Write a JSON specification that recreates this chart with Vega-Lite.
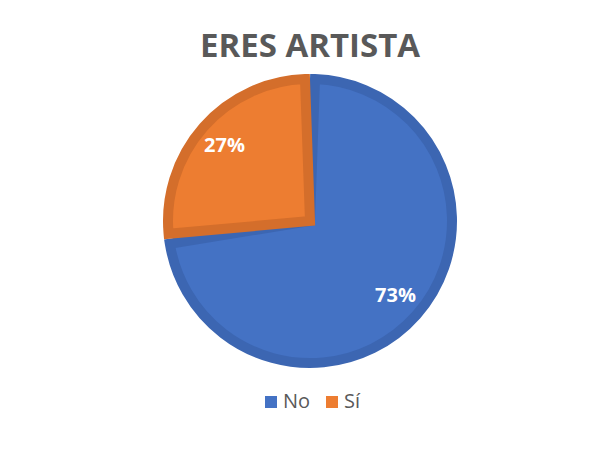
{
  "$schema": "https://vega.github.io/schema/vega-lite/v6.json",
  "autosize": "none",
  "width": 296,
  "height": 296,
  "padding": {"left": 162, "top": 73, "right": 145, "bottom": 84},
  "background": "white",
  "title": {
    "text": "ERES ARTISTA",
    "anchor": "middle",
    "fontSize": 33,
    "fontWeight": "bold",
    "font": "Open Sans",
    "color": "#595959",
    "baseline": "bottom",
    "offset": 7,
    "dy": 45
  },
  "data": {
    "values": [
      {"answer": "No", "share": 0.73},
      {"answer": "Sí", "share": 0.27}
    ]
  },
  "encoding": {
    "theta": {"field": "share", "type": "quantitative", "stack": true},
    "order": {"field": "answer", "type": "nominal", "sort": "ascending"}
  },
  "layer": [
    {
      "mark": {
        "type": "arc",
        "outerRadius": 142,
        "strokeWidth": 10,
        "padAngle": 0.0704,
        "strokeJoin": "miter"
      },
      "encoding": {
        "color": {
          "field": "answer",
          "type": "nominal",
          "scale": {"domain": ["No", "Sí"], "range": ["#4472C4", "#ED7D31"]},
          "legend": {
            "title": null,
            "orient": "none",
            "legendX": 99,
            "legendY": 319,
            "direction": "horizontal",
            "symbolType": "square",
            "symbolSize": 144,
            "symbolStrokeWidth": 0,
            "labelFontSize": 20,
            "labelFont": "Open Sans",
            "labelColor": "#595959",
            "labelOffset": 2,
            "columnPadding": 11
          }
        },
        "stroke": {
          "field": "answer",
          "type": "nominal",
          "scale": {"domain": ["No", "Sí"], "range": ["#3C66B2", "#D46E2B"]},
          "legend": null
        }
      }
    },
    {
      "mark": {
        "type": "text",
        "radius": 114,
        "fontSize": 20,
        "fontWeight": "bold",
        "font": "Open Sans",
        "align": "center",
        "baseline": "middle"
      },
      "encoding": {
        "detail": {"field": "answer", "type": "nominal"},
        "color": {"value": "white"},
        "text": {"field": "share", "type": "quantitative", "format": ".0%"}
      }
    }
  ],
  "config": {"view": {"stroke": null}}
}
